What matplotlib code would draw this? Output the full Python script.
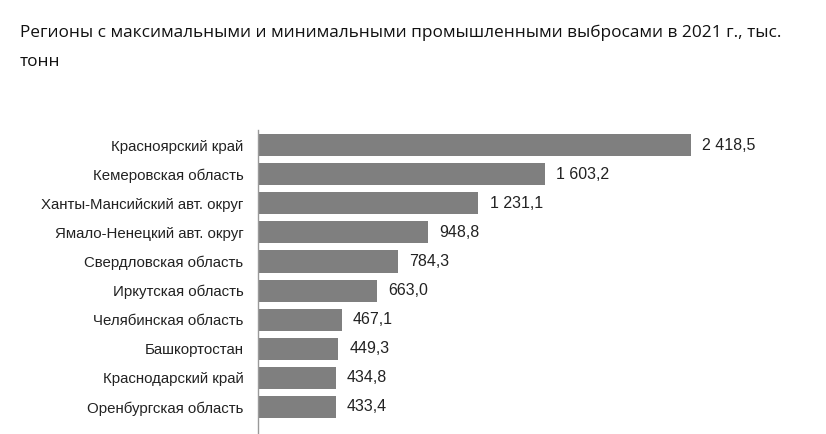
import matplotlib
matplotlib.use("Agg")
import matplotlib.pyplot as plt

# data
regions = [
    "Красноярский край",
    "Кемеровская область",
    "Ханты-Мансийский авт. округ",
    "Ямало-Ненецкий авт. округ",
    "Свердловская область",
    "Иркутская область",
    "Челябинская область",
    "Башкортостан",
    "Краснодарский край",
    "Оренбургская область",
]
emissions = [2418.5, 1603.2, 1231.1, 948.8, 784.3, 663.0, 467.1, 449.3, 434.8, 433.4]

BAR_COLOR = "#7f7f7f"

fig = plt.figure(figsize=(8.26, 4.34), dpi=100)
ax = fig.add_axes([258 / 826, 0.0, (800 - 258) / 826, 1 - 130 / 434])

y = list(range(len(regions)))
ax.barh(y, emissions, height=0.76, color=BAR_COLOR)

ax.set_xlim(0, 542 * 2418.5 / 433)
ax.set_ylim(9.93, -0.52)

ax.set_yticks(y)
ax.set_yticklabels(regions, fontsize=10.8, family="Liberation Sans", color="#222222")
ax.tick_params(axis="y", length=0, pad=10.5)
ax.set_xticks([])

for s in ["top", "right", "bottom"]:
    ax.spines[s].set_visible(False)
ax.spines["left"].set_color("#999999")
ax.spines["left"].set_linewidth(1.0)

for yi, v in zip(y, emissions):
    label = f"{v:,.1f}".replace(",", " ").replace(".", ",")
    ax.annotate(label, (v, yi), xytext=(8, 0), textcoords="offset points",
                va="center", ha="left", fontsize=11.5, family="Liberation Sans",
                color="#222222")

fig.text(20 / 826, 1 - 33 / 434,
         "Регионы с максимальными и минимальными промышленными выбросами в 2021 г., тыс.",
         fontsize=12.4, family="Open Sans", va="center", ha="left", color="#111111")
fig.text(20 / 826, 1 - 62 / 434, "тонн",
         fontsize=12.4, family="Open Sans", va="center", ha="left", color="#111111")

fig.savefig("out.png", dpi=100, facecolor="white")
